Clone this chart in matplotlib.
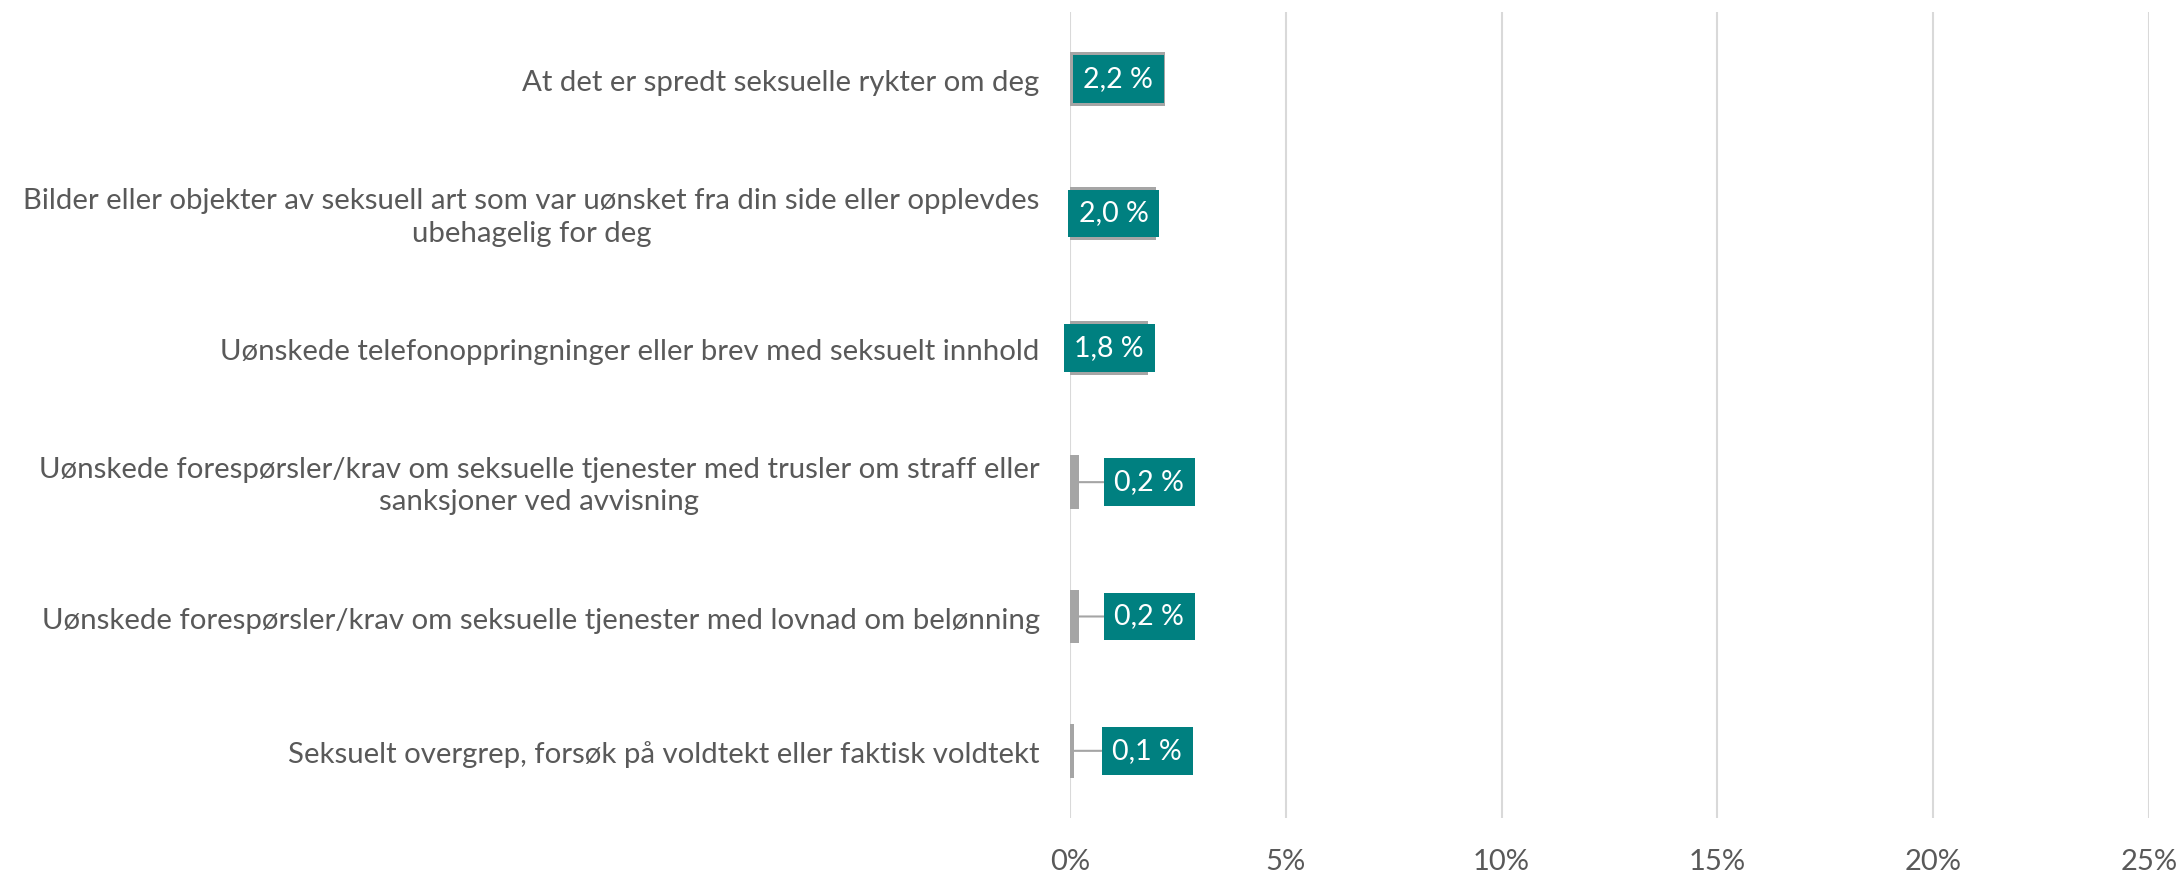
import numpy as np
import matplotlib
matplotlib.use('Agg')
import matplotlib.pyplot as plt
from matplotlib.ticker import FuncFormatter

# categories, top to bottom
categories = ['At det er spredt seksuelle rykter om deg',
              'Bilder eller objekter av seksuell art som var uønsket fra din side eller opplevdes\nubehagelig for deg',
              'Uønskede telefonoppringninger eller brev med seksuelt innhold',
              'Uønskede forespørsler/krav om seksuelle tjenester med trusler om straff eller\nsanksjoner ved avvisning',
              'Uønskede forespørsler/krav om seksuelle tjenester med lovnad om belønning',
              'Seksuelt overgrep, forsøk på voldtekt eller faktisk voldtekt']
values = [2.2, 2.0, 1.8, 0.2, 0.2, 0.1]
value_labels = ['2,2 %', '2,0 %', '1,8 %', '0,2 %', '0,2 %', '0,1 %']

# layout: centre of each data label box (x, in %)
label_x = [1.12, 1.01, 0.91, 1.84, 1.84, 1.79]

GREY = '#a5a5a5'
TEAL = '#008080'
TXT = '#595959'
plt.rcParams['font.family'] = ['Lato', 'DejaVu Sans']

fig = plt.figure(figsize=(21.8, 8.73), dpi=100)
ax = fig.add_axes([0.4908, 0.063, 0.4950, 0.9233])

y = np.arange(len(values))
ax.barh(y, values, height=0.4, color=GREY, zorder=2)

tr = ax.get_yaxis_transform()
for i in range(len(values)):
    bb = dict(boxstyle='square,pad=0.38', fc=TEAL, ec='none')
    if label_x[i] > values[i]:
        ax.annotate(value_labels[i], xy=(values[i], i), xytext=(label_x[i], i),
                    ha='center', va='center', color='white', fontsize=20.5, bbox=bb,
                    arrowprops=dict(arrowstyle='-', color=GREY, lw=1.5,
                                    shrinkA=0, shrinkB=0), zorder=3)
    else:
        ax.text(label_x[i], i, value_labels[i], ha='center', va='center',
                color='white', fontsize=20.5, bbox=bb, zorder=3)

    ax.text(-0.028, i + 0.03, categories[i], transform=tr, ha='right', va='center',
            multialignment='center', linespacing=1.3, color=TXT, fontsize=21.2)

ax.set_xlim(0, 25)
ax.set_ylim(len(values) - 0.5, -0.5)
ax.set_xticks(np.arange(0, 26, 5))
ax.xaxis.set_major_formatter(FuncFormatter(lambda v, p: '%d%%' % v))
ax.set_yticks([])
ax.tick_params(axis='x', length=0, pad=22, labelsize=21, labelcolor=TXT)
ax.grid(axis='x', color='#d9d9d9', lw=1.5, zorder=0)
ax.set_axisbelow(True)
for s in ax.spines.values():
    s.set_visible(False)

fig.savefig('out.png', dpi=100)
